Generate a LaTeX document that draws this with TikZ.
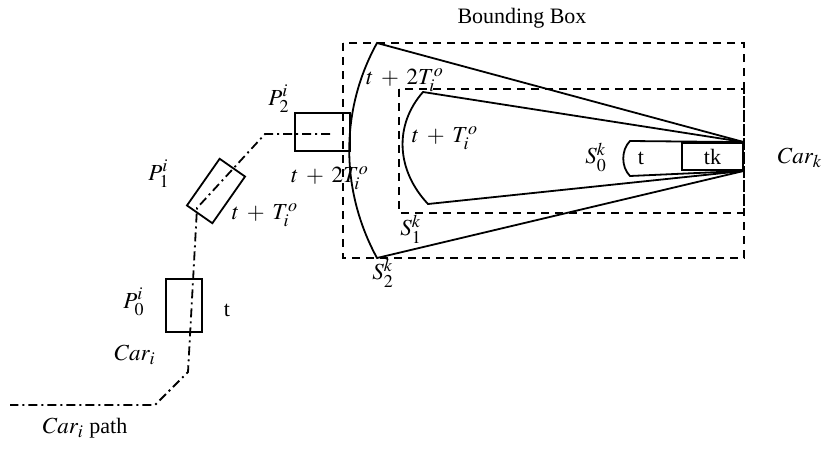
\documentclass[tikz,border=0pt]{standalone}
\usepackage{mathptmx}
\usepackage{fontspec}
\setmainfont{Liberation Serif}
\usetikzlibrary{positioning}
\DeclareMathSizes{11}{11.5}{9}{7}
\medmuskip=6mu plus 2mu minus 4mu
\begin{document}
\begin{tikzpicture}[
  x=0.5pt,y=-0.5pt,
  font=\fontsize{11}{13}\selectfont,
  line width=0.9pt,
  bbox/.style={dash pattern=on 4pt off 3pt},
  carpath/.style={dash pattern=on 4.5pt off 2pt on 1pt off 2pt},
  carbox/.style={draw,inner sep=0pt},
  lbl/.style={inner sep=1pt}
]
\useasboundingbox (0,0) rectangle (833,455);

\node (title) at (522,18) {Bounding Box};

% bounding boxes around the sectors of car k
\draw[bbox] (343,43) rectangle (744,258);
\draw[bbox] (399,89) rectangle (744,213);

% car k and its three sectors
\node[carbox,minimum width=30.5pt,minimum height=13.5pt] (cark) at (712.5,156.5) {tk};
\coordinate (s2a) at (377,43);
\coordinate (s2b) at (377,258);
\coordinate (s1a) at (423,92);
\coordinate (s1b) at (428,204);
\coordinate (s0a) at (630,141);
\coordinate (s0b) at (630,176);
\draw (cark.north east) -- (s2a) .. controls (340,110) and (340,190) .. (s2b) -- (cark.south east);
\draw (cark.north east) -- (s1a) .. controls (394,125) and (396,170) .. (s1b) -- (cark.south east);
\draw (cark.north east) -- (s0a) .. controls (621,150) and (621,167) .. (s0b) -- (cark.south east);
\node (t0) at (641,158) {t};
\node (labcark) at (800,158) {$Car_k$};
\node[lbl] (labs0) at (596,157) {$S_0^k$};
\node[lbl] (labs1) at (411,229) {$S_1^k$};
\node[lbl] (labs2) at (383,273) {$S_2^k$};
\node[lbl] (labt1) at (445,138) {$t+T_i^o$};
\node[lbl] (labt2) at (405,80) {$t+2T_i^o$};

% predicted positions of car i
\node[carbox,minimum width=18pt,minimum height=26.5pt] (p0) at (184,305.5) {};
\node[carbox,minimum width=28.5pt,minimum height=15.5pt,rotate=55] (p1) at (216,191) {};
\node[carbox,minimum width=27.5pt,minimum height=19pt] (p2) at (322.5,132) {};
\node[lbl] (labp0) at (134,302) {$P_0^i$};
\node[lbl] (labp1) at (159,174) {$P_1^i$};
\node[lbl] (labp2) at (279,99) {$P_2^i$};
\node (labt0) at (227,310) {t};
\node[lbl] (labpt1) at (265,215) {$t+T_i^o$};
\node[lbl] (labpt2) at (330,178) {$t+2T_i^o$};
\node (labcari) at (135,355) {$Car_i$};

% path of car i
\coordinate (c1) at (330,134);
\coordinate (c2) at (265,134);
\coordinate (c3) at (197,208);
\coordinate (c4) at (188,372);
\coordinate (c5) at (155,405);
\coordinate (c6) at (10,405);
\draw[carpath] (c1) -- (c2) -- (c3) -- (c4) -- (c5) -- (c6);
\node (labpath) at (85,428) {$Car_i$ path};
\end{tikzpicture}
\end{document}
